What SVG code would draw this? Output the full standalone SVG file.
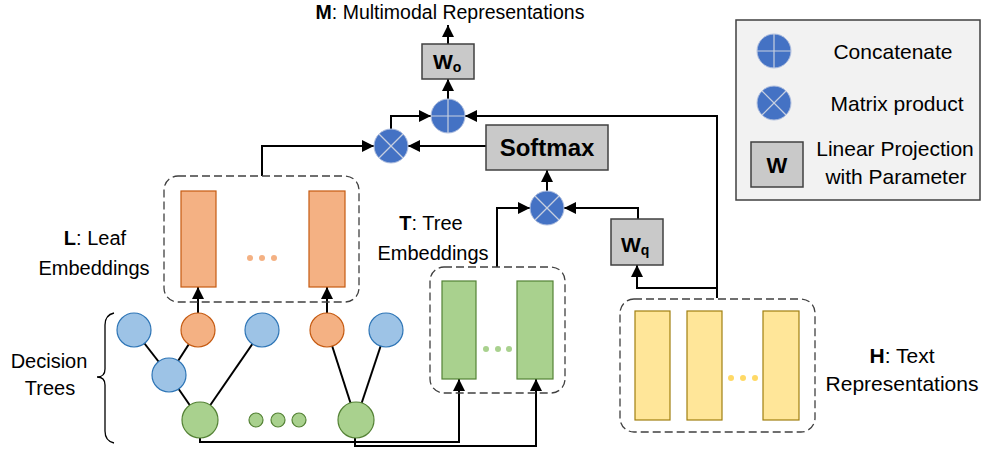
<svg xmlns="http://www.w3.org/2000/svg" width="984" height="452" viewBox="0 0 984 452">
<style>
text{font-family:"Liberation Sans",Arial,sans-serif;fill:#000}
.lbl{font-size:20px}
.leg{font-size:21px;text-anchor:middle}
.box{fill:#c9c9c9;stroke:#404040;stroke-width:1.5}
.dash{fill:none;stroke:#404040;stroke-width:1.3;stroke-dasharray:8 4}
.op{fill:#4472c4;stroke:#b4c2e0;stroke-width:1}
.opl{stroke:#c8d0e0;stroke-width:1.2}
.conn{fill:none;stroke:#000;stroke-width:2}
.edge{stroke:#000;stroke-width:2}
.or{fill:#f4b183;stroke:#c55a11;stroke-width:1.2}
.gr{fill:#a9d18e;stroke:#548235;stroke-width:1.2}
.bl{fill:#9dc3e6;stroke:#2e75b6;stroke-width:1.2}
.ye{fill:#ffe699;stroke:#a07f10;stroke-width:1.2}
.bw{font-weight:bold}
</style>
<defs>
<marker id="ah" markerUnits="userSpaceOnUse" markerWidth="12" markerHeight="12" viewBox="0 0 12 12" refX="12" refY="6" orient="auto">
<path d="M0,0 L12,6 L0,12 z" fill="#000"/>
</marker>
</defs>

<!-- title -->
<text id="title" x="450" y="19" class="lbl" text-anchor="middle" style="font-size:19.5px"><tspan class="bw">M</tspan>: Multimodal Representations</text>

<!-- legend -->
<g id="legend">
<rect x="736" y="20" width="244" height="180" fill="#f2f2f2" stroke="#404040" stroke-width="1.5"/>
<circle class="op" cx="774" cy="51" r="17"/>
<line class="opl" x1="757" y1="51" x2="791" y2="51"/><line class="opl" x1="774" y1="34" x2="774" y2="68"/>
<text class="leg" x="893" y="59">Concatenate</text>
<circle class="op" cx="774" cy="103" r="17"/>
<line class="opl" x1="762" y1="91" x2="786" y2="115"/><line class="opl" x1="786" y1="91" x2="762" y2="115"/>
<text class="leg" x="897" y="111">Matrix product</text>
<rect class="box" x="751" y="142" width="52" height="45"/>
<text x="777" y="173" text-anchor="middle" class="bw" style="font-size:22px">W</text>
<text class="leg" x="895" y="156">Linear Projection</text>
<text class="leg" x="896" y="184">with Parameter</text>
</g>

<!-- connectors -->
<g id="connectors">
<path class="conn" d="M448,44 V25" marker-end="url(#ah)"/>
<path class="conn" d="M448,99 V79" marker-end="url(#ah)"/>
<path class="conn" d="M391,129 V116 H431" marker-end="url(#ah)"/>
<path class="conn" d="M717,298 V116 H465" marker-end="url(#ah)"/>
<path class="conn" d="M486,146 H408" marker-end="url(#ah)"/>
<path class="conn" d="M262,176 V146 H374" marker-end="url(#ah)"/>
<path class="conn" d="M547,191 V170" marker-end="url(#ah)"/>
<path class="conn" d="M497,267 V208 H530" marker-end="url(#ah)"/>
<path class="conn" d="M638,219 V208 H564" marker-end="url(#ah)"/>
<path class="conn" d="M717,288 H637 V265" marker-end="url(#ah)"/>
<path class="conn" d="M198,313 V287" marker-end="url(#ah)"/>
<path class="conn" d="M327,313 V287" marker-end="url(#ah)"/>
<path class="conn" d="M200,438 V442 H459 V379" marker-end="url(#ah)"/>
<path class="conn" d="M355,438 V446 H536 V379" marker-end="url(#ah)"/>
<line class="edge" x1="134" y1="330" x2="169" y2="375"/>
<line class="edge" x1="198" y1="330" x2="169" y2="375"/>
<line class="edge" x1="169" y1="375" x2="200" y2="420"/>
<line class="edge" x1="262" y1="330" x2="200" y2="420"/>
<line class="edge" x1="327" y1="330" x2="356" y2="420"/>
<line class="edge" x1="386" y1="330" x2="356" y2="420"/>
</g>

<!-- operators -->
<g id="concat">
<circle class="op" cx="448" cy="116" r="17"/>
<line class="opl" x1="431" y1="116" x2="465" y2="116"/><line class="opl" x1="448" y1="99" x2="448" y2="133"/>
</g>
<g id="matmul1">
<circle class="op" cx="391" cy="146" r="17"/>
<line class="opl" x1="379" y1="134" x2="403" y2="158"/><line class="opl" x1="403" y1="134" x2="379" y2="158"/>
</g>
<g id="matmul2">
<circle class="op" cx="547" cy="208" r="17"/>
<line class="opl" x1="535" y1="196" x2="559" y2="220"/><line class="opl" x1="559" y1="196" x2="535" y2="220"/>
</g>

<g id="Wo">
<rect class="box" x="422" y="44" width="52" height="35"/>
<text x="433" y="69" class="bw" style="font-size:21px">W<tspan dy="3" style="font-size:14px">o</tspan></text>
</g>
<g id="softmax">
<rect class="box" x="486" y="125" width="122" height="45"/>
<text x="547" y="156" text-anchor="middle" class="bw" style="font-size:24px">Softmax</text>
</g>
<g id="Wq">
<rect class="box" x="611" y="219" width="52" height="46"/>
<text x="621" y="252" class="bw" style="font-size:21px">W<tspan dy="3" style="font-size:14px">q</tspan></text>
</g>

<!-- leaf embeddings -->
<g id="leafEmb">
<rect class="dash" x="164" y="176" width="195" height="126" rx="14"/>
<rect class="or" x="181" y="191" width="35" height="96"/>
<rect class="or" x="309" y="191" width="36" height="96"/>
<circle cx="250" cy="258" r="3" fill="#f4b183"/><circle cx="262" cy="258" r="3" fill="#f4b183"/><circle cx="274" cy="258" r="3" fill="#f4b183"/>
<text class="lbl" x="95" y="245" text-anchor="middle"><tspan class="bw">L</tspan>: Leaf</text>
<text class="lbl" x="94" y="275" text-anchor="middle">Embeddings</text>
</g>

<!-- tree embeddings -->
<g id="treeEmb">
<rect class="dash" x="430" y="267" width="135" height="126" rx="14"/>
<rect class="gr" x="442" y="281" width="34" height="98"/>
<rect class="gr" x="517" y="281" width="36" height="98"/>
<circle cx="486" cy="349" r="3" fill="#a9d18e"/><circle cx="498" cy="349" r="3" fill="#a9d18e"/><circle cx="509" cy="349" r="3" fill="#a9d18e"/>
<text class="lbl" x="431" y="230" text-anchor="middle"><tspan class="bw">T</tspan>: Tree</text>
<text class="lbl" x="433" y="260" text-anchor="middle">Embeddings</text>
</g>

<!-- text representations -->
<g id="textRep">
<rect class="dash" x="620" y="299" width="195" height="133" rx="14"/>
<rect class="ye" x="635" y="311" width="35" height="109"/>
<rect class="ye" x="687" y="311" width="35" height="109"/>
<rect class="ye" x="763" y="311" width="36" height="109"/>
<circle cx="731" cy="378" r="3" fill="#ffd966"/><circle cx="743" cy="378" r="3" fill="#ffd966"/><circle cx="755" cy="378" r="3" fill="#ffd966"/>
<text class="lbl" x="902" y="363" text-anchor="middle" style="font-size:21px"><tspan class="bw">H</tspan>: Text</text>
<text class="lbl" x="902" y="391" text-anchor="middle" style="font-size:21px">Representations</text>
</g>

<!-- decision trees -->
<g id="trees">
<path d="M114,313 Q105,315 105,325 V369 Q105,377 97,377 Q105,377 105,385 V431 Q105,441 114,443" fill="none" stroke="#000" stroke-width="1.3"/>
<text class="lbl" x="49" y="368" text-anchor="middle">Decision</text>
<text class="lbl" x="50" y="395" text-anchor="middle">Trees</text>
<circle class="bl" cx="134" cy="330" r="17"/>
<circle class="or" cx="198" cy="330" r="17"/>
<circle class="bl" cx="262" cy="330" r="17"/>
<circle class="bl" cx="169" cy="375" r="17"/>
<circle class="gr" cx="200" cy="420" r="18"/>
<circle class="gr" cx="256" cy="420" r="7"/>
<circle class="gr" cx="278" cy="420" r="7"/>
<circle class="gr" cx="299" cy="420" r="7"/>
<circle class="gr" cx="356" cy="420" r="18"/>
<circle class="or" cx="327" cy="330" r="17"/>
<circle class="bl" cx="386" cy="330" r="17"/>
</g>
</svg>
